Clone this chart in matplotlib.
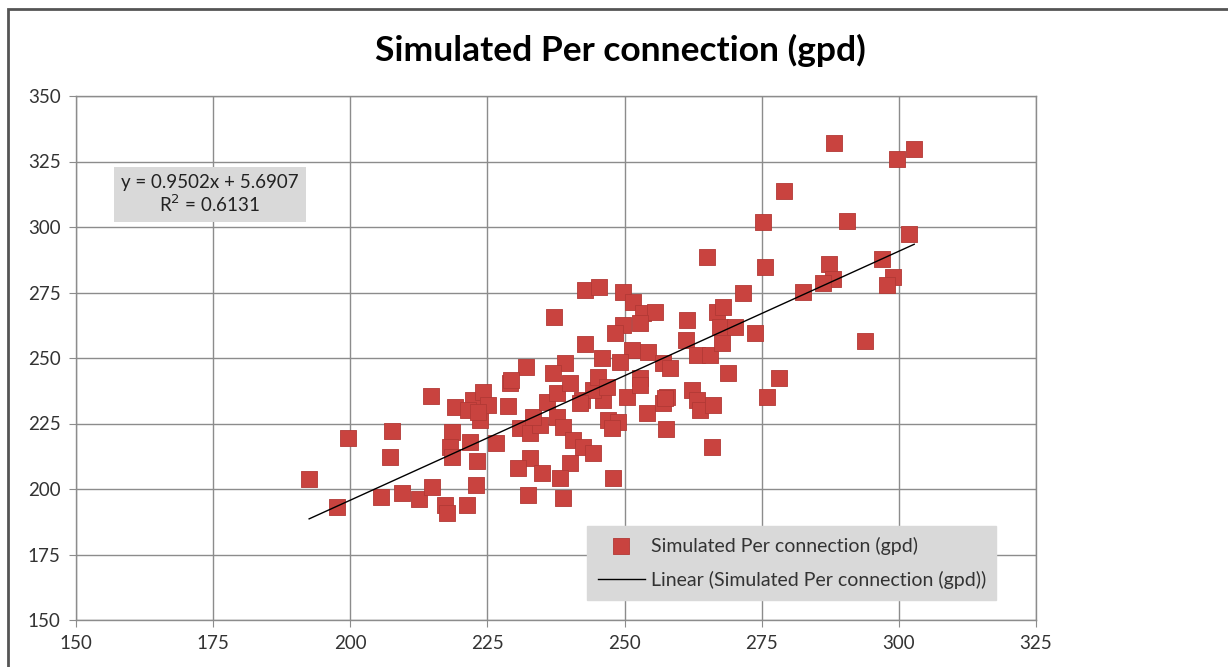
import matplotlib.pyplot as plt
import matplotlib.patches as patches
import numpy as np

x_vals = [
    192.5, 197.6, 199.6, 205.6, 207.2, 207.6, 209.4, 212.5, 214.9, 214.7,
    217.3, 217.6, 221.3, 222.9, 223.1, 226.6, 218.5, 218.2, 218.5, 221.8,
    219.1, 222.4, 224.2, 223.6, 221.5, 229.1, 228.7, 230.9, 232.8, 234.6,
    233.3, 235.9, 237.7, 237.7, 238.8, 242.2, 240.6, 242.4, 244.2, 240.0,
    232.8, 230.6, 234.9, 238.2, 232.4, 238.8, 247.9, 247.0, 248.8, 246.1,
    244.2, 232.0, 229.3, 237.1, 239.1, 236.9, 242.8, 245.3, 249.7, 251.5,
    253.4, 255.5, 252.8, 249.7, 248.3, 242.8, 251.3, 254.3, 245.9, 249.2,
    257.0, 258.3, 252.8, 245.2, 246.8, 250.4, 241.9, 240.0, 254.1, 257.0,
    257.7, 262.3, 263.2, 263.7, 266.1, 247.7, 257.5, 265.9, 265.0, 275.6,
    261.4, 261.2, 263.2, 265.6, 266.8, 267.9, 267.4, 270.1, 267.8, 271.6,
    273.8, 268.8, 278.1, 276.0, 288.2, 299.7, 302.8, 279.1, 275.2, 290.5,
    301.8, 296.9, 287.3, 288.0, 286.2, 282.5, 298.9, 297.8, 293.8, 252.8,
    257.4, 225.1, 223.3,
]
y_vals = [
    203.9, 193.3, 219.6, 197.1, 212.3, 222.2, 198.6, 196.3, 200.9, 235.6,
    194.0, 191.0, 194.0, 201.6, 210.8, 217.7, 221.9, 216.1, 212.3, 218.0,
    231.4, 234.1, 237.1, 226.4, 230.2, 240.5, 231.8, 223.4, 221.5, 224.5,
    227.6, 233.3, 236.7, 227.6, 223.8, 234.1, 218.8, 216.1, 213.8, 210.0,
    211.9, 208.1, 206.2, 204.3, 197.8, 196.7, 204.3, 226.4, 225.7, 234.1,
    237.9, 246.6, 241.7, 265.7, 248.2, 244.4, 276.0, 277.2, 275.2, 271.4,
    267.2, 267.6, 263.4, 262.7, 259.6, 255.4, 253.1, 252.4, 250.1, 248.6,
    248.2, 246.3, 242.4, 242.8, 239.0, 235.2, 232.9, 240.5, 229.1, 232.9,
    235.2, 237.9, 234.1, 230.2, 232.2, 223.4, 223.0, 216.1, 288.6, 284.8,
    264.6, 256.9, 251.2, 251.2, 267.6, 269.5, 261.9, 261.9, 255.8, 274.9,
    259.6, 244.4, 242.4, 235.2, 332.1, 326.0, 329.8, 313.8, 301.9, 302.3,
    297.4, 287.8, 285.9, 280.2, 278.7, 275.2, 281.0, 277.9, 256.6, 239.8,
    234.8, 232.2, 229.5,
]

# Excel linear trendline as printed on the chart
slope = 0.9502
intercept = 5.6907
r_squared = 0.6131

title = 'Simulated Per connection (gpd)'
series_label = 'Simulated Per connection (gpd)'
trend_label = 'Linear (Simulated Per connection (gpd))'
ticks = [150, 175, 200, 225, 250, 275, 300, 325, 350]

plt.rcParams['font.family'] = ['Lato', 'DejaVu Sans']

fig = plt.figure(figsize=(12.28, 6.67), dpi=100)
ax = fig.add_axes([76 / 1228, 1 - 620 / 667, 960 / 1228, 524 / 667])

# chart-area frame (only top/left edges show in the screenshot)
fig.patches.append(patches.Rectangle(
    (8 / 1228, -0.1), 1.2, 1 - 9 / 667 + 0.1, transform=fig.transFigure,
    fill=False, edgecolor='#555555', linewidth=2.0, zorder=0))

xs = np.array(x_vals)
ys = np.array(y_vals)

ax.scatter(xs, ys, marker='s', s=118, color='#c9433f', edgecolors='#b23935',
           linewidths=0.6, zorder=3, label=series_label)

line_x = np.array([xs.min(), xs.max()])
ax.plot(line_x, slope * line_x + intercept, color='black', lw=1.0, zorder=4,
        label=trend_label)

ax.set_xlim(150, 325)
ax.set_ylim(150, 350)
ax.set_xticks(ticks[:-1])
ax.set_yticks(ticks)
ax.grid(True, color='#8c8c8c', linewidth=1.0, zorder=0)
ax.set_axisbelow(True)
for side in ax.spines.values():
    side.set_color('#8c8c8c')
    side.set_linewidth(1.0)
ax.tick_params(colors='#8c8c8c', labelcolor='#333333', labelsize=13.5,
               length=5, direction='out', pad=6)

fig.text(620 / 1228, 1 - 50 / 667, title, ha='center', va='center',
         fontsize=25.5, fontweight='bold', color='black')

eq_text = f'y = {slope}x + {intercept}\nR$^2$ = {r_squared}'
ax.text(174.4, 312.4, eq_text, ha='center', va='center', fontsize=13.5,
        color='#222222', linespacing=1.1,
        bbox=dict(boxstyle='square,pad=0.4', facecolor='#d9d9d9',
                  edgecolor='none'), zorder=5)

leg = ax.legend(loc='lower left', bbox_to_anchor=(0.5225, 0.02), fontsize=14,
                frameon=True, fancybox=False, framealpha=1.0,
                facecolor='#d9d9d9', edgecolor='#d9d9d9', handlelength=2.4,
                handletextpad=0.3, borderpad=0.55, labelspacing=0.85)
for t in leg.get_texts():
    t.set_color('#333333')

fig.savefig('out.png', dpi=100)
